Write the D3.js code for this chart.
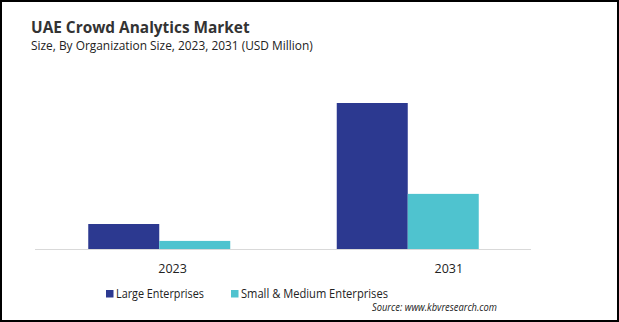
<!DOCTYPE html>
<html>
<head>
<meta charset="utf-8">
<script src="https://cdn.jsdelivr.net/npm/d3@7"></script>
<style>
  body { margin: 0; background: #fff; }
  svg { display: block; font-family: "Open Sans", sans-serif; }
</style>
</head>
<body>
<div id="chart"></div>
<script>
// chart data (USD Million)
const years = ["2023", "2031"];
const seriesNames = ["Large Enterprises", "Small & Medium Enterprises"];
const largeValues = [10.2, 59.6];
const smallValues = [3.3, 22.5];
const seriesColors = ["#2C3990", "#4FC3CF"];

const width = 619, height = 322;

const svg = d3.select("#chart")
    .append("svg")
    .attr("width", width)
    .attr("height", height);

// outer frame
svg.append("rect")
    .attr("x", 1).attr("y", 1)
    .attr("width", width - 2).attr("height", height - 2)
    .attr("fill", "#fff")
    .attr("stroke", "#000")
    .attr("stroke-width", 2);

// titles
svg.append("text")
    .attr("x", 31).attr("y", 33)
    .attr("font-size", "15.4px")
    .attr("font-weight", "bold")
    .attr("fill", "#333")
    .text("UAE Crowd Analytics Market");

svg.append("text")
    .attr("x", 31).attr("y", 50)
    .attr("font-size", "11.9px")
    .attr("fill", "#222")
    .text("Size, By Organization Size, 2023, 2031 (USD Million)");

// scales
const x0 = d3.scaleBand().domain(years).range([35, 532]);
const x1 = d3.scaleBand().domain(seriesNames).range([0, 142]);
const y = d3.scaleLinear()
    .domain([0, d3.max(largeValues.concat(smallValues))])
    .range([249, 103]);

const rows = years.map((yr, i) => ({
    year: yr,
    values: [
        { name: seriesNames[0], value: largeValues[i], color: seriesColors[0] },
        { name: seriesNames[1], value: smallValues[i], color: seriesColors[1] }
    ]
}));

const groups = svg.selectAll("g.year")
    .data(rows)
    .enter()
    .append("g")
    .attr("class", "year")
    .attr("transform", d => `translate(${x0(d.year) + x0.bandwidth() / 2 - 71}, 0)`);

groups.selectAll("rect")
    .data(d => d.values)
    .enter()
    .append("rect")
    .attr("x", d => x1(d.name))
    .attr("width", x1.bandwidth())
    .attr("y", d => y(d.value))
    .attr("height", d => y(0) - y(d.value))
    .attr("fill", d => d.color);

// baseline
svg.append("line")
    .attr("x1", 35).attr("x2", 531)
    .attr("y1", y(0) + 0.5).attr("y2", y(0) + 0.5)
    .attr("stroke", "#d9d9d9")
    .attr("stroke-width", 1);

// year labels (placed on their own band, as in the source image)
const xLabel = d3.scaleBand().domain(years).range([34.5, 587]);
svg.selectAll("text.tick")
    .data(years)
    .enter()
    .append("text")
    .attr("class", "tick")
    .attr("x", d => xLabel(d) + xLabel.bandwidth() / 2)
    .attr("y", 273)
    .attr("text-anchor", "middle")
    .attr("font-size", "12.5px")
    .attr("fill", "#222")
    .text(d => d);

// legend
const legendX = [106, 231];
const legendW = [88, 147];
const legend = svg.selectAll("g.legend")
    .data(seriesNames)
    .enter()
    .append("g")
    .attr("class", "legend")
    .attr("transform", (d, i) => `translate(${legendX[i]}, 290)`);

legend.append("rect")
    .attr("width", 7.5).attr("height", 7.5)
    .attr("fill", (d, i) => seriesColors[i]);

legend.append("text")
    .attr("x", 10).attr("y", 8)
    .attr("font-size", "11.8px")
    .attr("fill", "#222")
    .attr("textLength", (d, i) => legendW[i])
    .attr("lengthAdjust", "spacingAndGlyphs")
    .text(d => d);

// source
svg.append("text")
    .attr("x", 497).attr("y", 311)
    .attr("text-anchor", "end")
    .attr("font-size", "10px")
    .attr("font-style", "italic")
    .attr("fill", "#222")
    .attr("textLength", 125)
    .attr("lengthAdjust", "spacingAndGlyphs")
    .text("Source: www.kbvresearch.com");
</script>
</body>
</html>
